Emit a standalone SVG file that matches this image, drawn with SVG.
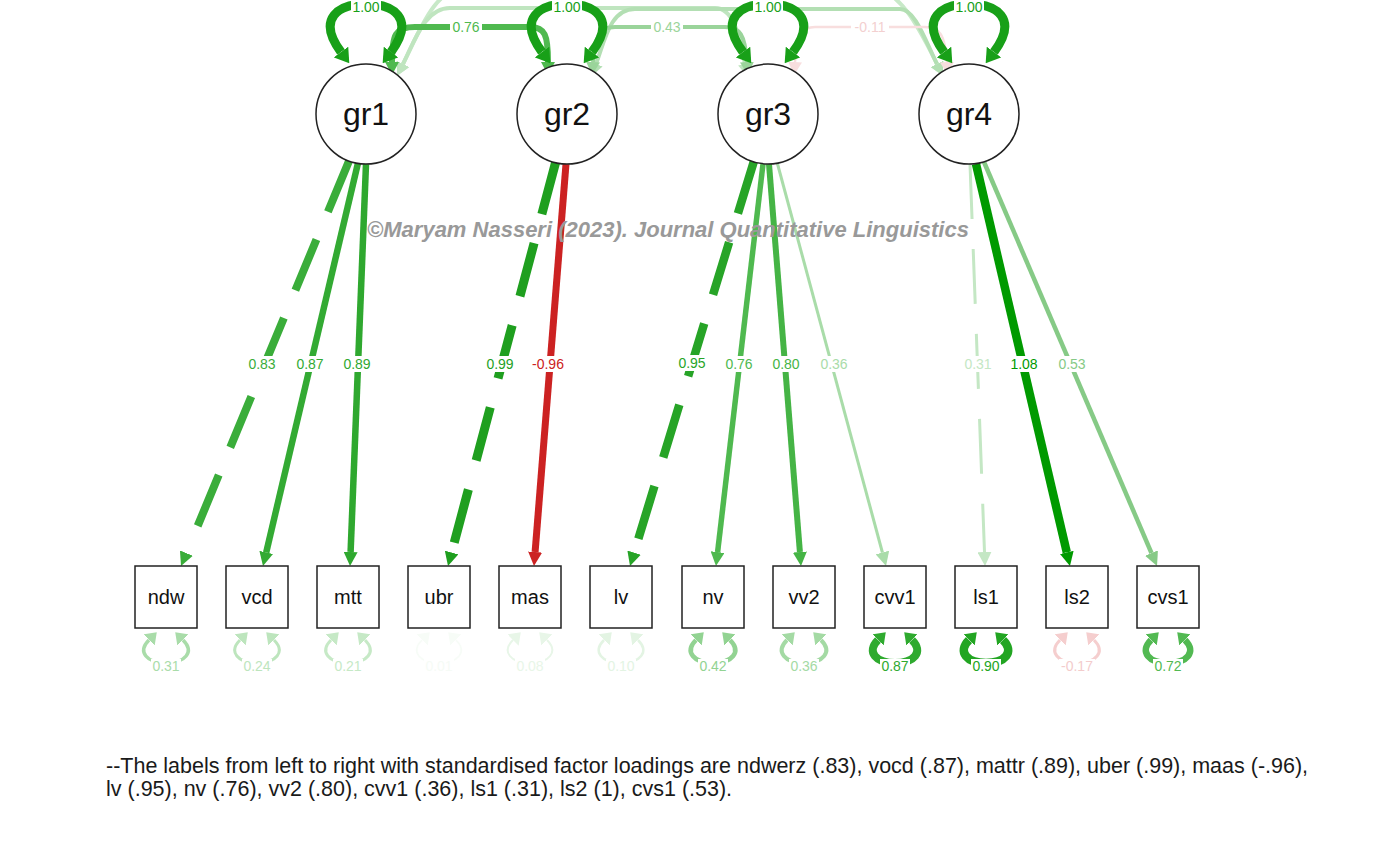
<svg xmlns="http://www.w3.org/2000/svg" xmlns:xlink="http://www.w3.org/1999/xlink" width="1385" height="851" viewBox="0 0 1385 851">
<style>
text{font-family:"Liberation Sans",Arial,sans-serif}
.lat circle{fill:#fff;stroke:#222;stroke-width:1.5}
.lat text{font-size:32px;fill:#111;text-anchor:middle}
.man rect{fill:#fff;stroke:#222;stroke-width:1.5}
.man text{font-size:20px;fill:#111;text-anchor:middle}
.lbl{font-size:14px;text-anchor:middle}
.bg{fill:#fff}
.ln{fill:none;stroke-linecap:butt}
.dash{stroke-dasharray:55 30}
.wm{font-size:22px;font-weight:bold;font-style:italic;fill:#999;text-anchor:middle}
.foot{font-size:21.5px;fill:#1a1a1a}
</style>
<defs>
<marker id="mLoop" viewBox="0 -9 14 18" refX="0" refY="0" markerWidth="14" markerHeight="18" markerUnits="userSpaceOnUse" orient="auto-start-reverse"><path d="M0,-9 L14,0 L0,9 z" fill="#18a018"/></marker>
<marker id="l83" viewBox="0 -7 14 14" refX="0" refY="0" markerWidth="14" markerHeight="14" markerUnits="userSpaceOnUse" orient="auto"><path d="M0,-7 L14,0 L0,7 z" fill="#3aad3a"/></marker>
<marker id="l87" viewBox="0 -7 14 14" refX="0" refY="0" markerWidth="14" markerHeight="14" markerUnits="userSpaceOnUse" orient="auto"><path d="M0,-7 L14,0 L0,7 z" fill="#33aa33"/></marker>
<marker id="l89" viewBox="0 -7 14 14" refX="0" refY="0" markerWidth="14" markerHeight="14" markerUnits="userSpaceOnUse" orient="auto"><path d="M0,-7 L14,0 L0,7 z" fill="#2fa82f"/></marker>
<marker id="l99" viewBox="0 -7 14 14" refX="0" refY="0" markerWidth="14" markerHeight="14" markerUnits="userSpaceOnUse" orient="auto"><path d="M0,-7 L14,0 L0,7 z" fill="#1f9f1f"/></marker>
<marker id="l96" viewBox="0 -7 14 14" refX="0" refY="0" markerWidth="14" markerHeight="14" markerUnits="userSpaceOnUse" orient="auto"><path d="M0,-7 L14,0 L0,7 z" fill="#cc2222"/></marker>
<marker id="l95" viewBox="0 -7 14 14" refX="0" refY="0" markerWidth="14" markerHeight="14" markerUnits="userSpaceOnUse" orient="auto"><path d="M0,-7 L14,0 L0,7 z" fill="#27a427"/></marker>
<marker id="l76" viewBox="0 -7 14 14" refX="0" refY="0" markerWidth="14" markerHeight="14" markerUnits="userSpaceOnUse" orient="auto"><path d="M0,-7 L14,0 L0,7 z" fill="#4fb94f"/></marker>
<marker id="l80" viewBox="0 -7 14 14" refX="0" refY="0" markerWidth="14" markerHeight="14" markerUnits="userSpaceOnUse" orient="auto"><path d="M0,-7 L14,0 L0,7 z" fill="#45b445"/></marker>
<marker id="l36" viewBox="0 -7 14 14" refX="0" refY="0" markerWidth="14" markerHeight="14" markerUnits="userSpaceOnUse" orient="auto"><path d="M0,-7 L14,0 L0,7 z" fill="#a9dca9"/></marker>
<marker id="l31" viewBox="0 -7 14 14" refX="0" refY="0" markerWidth="14" markerHeight="14" markerUnits="userSpaceOnUse" orient="auto"><path d="M0,-7 L14,0 L0,7 z" fill="#c4e7c4"/></marker>
<marker id="l108" viewBox="0 -7 14 14" refX="0" refY="0" markerWidth="14" markerHeight="14" markerUnits="userSpaceOnUse" orient="auto"><path d="M0,-7 L14,0 L0,7 z" fill="#009a00"/></marker>
<marker id="l53" viewBox="0 -7 14 14" refX="0" refY="0" markerWidth="14" markerHeight="14" markerUnits="userSpaceOnUse" orient="auto"><path d="M0,-7 L14,0 L0,7 z" fill="#86ca86"/></marker>
<marker id="c76" viewBox="0 -7 13 14" refX="0" refY="0" markerWidth="13" markerHeight="14" markerUnits="userSpaceOnUse" orient="auto-start-reverse"><path d="M0,-7 L13,0 L0,7 z" fill="#4fb94f"/></marker>
<marker id="c43" viewBox="0 -7 13 14" refX="0" refY="0" markerWidth="13" markerHeight="14" markerUnits="userSpaceOnUse" orient="auto-start-reverse"><path d="M0,-7 L13,0 L0,7 z" fill="#9ad49a"/></marker>
<marker id="c11" viewBox="0 -7 13 14" refX="0" refY="0" markerWidth="13" markerHeight="14" markerUnits="userSpaceOnUse" orient="auto-start-reverse"><path d="M0,-7 L13,0 L0,7 z" fill="#f8dede"/></marker>
<marker id="c13" viewBox="0 -7 13 14" refX="0" refY="0" markerWidth="13" markerHeight="14" markerUnits="userSpaceOnUse" orient="auto-start-reverse"><path d="M0,-7 L13,0 L0,7 z" fill="#bfe5bf"/></marker>
<marker id="c24" viewBox="0 -7 13 14" refX="0" refY="0" markerWidth="13" markerHeight="14" markerUnits="userSpaceOnUse" orient="auto-start-reverse"><path d="M0,-7 L13,0 L0,7 z" fill="#b3dfb3"/></marker>
<marker id="c14" viewBox="0 -7 13 14" refX="0" refY="0" markerWidth="13" markerHeight="14" markerUnits="userSpaceOnUse" orient="auto-start-reverse"><path d="M0,-7 L13,0 L0,7 z" fill="#c8e9c8"/></marker>
<marker id="r31" viewBox="0 -8 11 16" refX="0" refY="0" markerWidth="11" markerHeight="16" markerUnits="userSpaceOnUse" orient="auto-start-reverse"><path d="M0,-8 L11,0 L0,8 z" fill="#a9dca9"/></marker>
<marker id="r24" viewBox="0 -8 11 16" refX="0" refY="0" markerWidth="11" markerHeight="16" markerUnits="userSpaceOnUse" orient="auto-start-reverse"><path d="M0,-8 L11,0 L0,8 z" fill="#bde5bd"/></marker>
<marker id="r21" viewBox="0 -8 11 16" refX="0" refY="0" markerWidth="11" markerHeight="16" markerUnits="userSpaceOnUse" orient="auto-start-reverse"><path d="M0,-8 L11,0 L0,8 z" fill="#c6e9c6"/></marker>
<marker id="r01" viewBox="0 -8 11 16" refX="0" refY="0" markerWidth="11" markerHeight="16" markerUnits="userSpaceOnUse" orient="auto-start-reverse"><path d="M0,-8 L11,0 L0,8 z" fill="#f7fcf7"/></marker>
<marker id="r08" viewBox="0 -8 11 16" refX="0" refY="0" markerWidth="11" markerHeight="16" markerUnits="userSpaceOnUse" orient="auto-start-reverse"><path d="M0,-8 L11,0 L0,8 z" fill="#e8f6e8"/></marker>
<marker id="r10" viewBox="0 -8 11 16" refX="0" refY="0" markerWidth="11" markerHeight="16" markerUnits="userSpaceOnUse" orient="auto-start-reverse"><path d="M0,-8 L11,0 L0,8 z" fill="#e3f4e3"/></marker>
<marker id="r42" viewBox="0 -8 11 16" refX="0" refY="0" markerWidth="11" markerHeight="16" markerUnits="userSpaceOnUse" orient="auto-start-reverse"><path d="M0,-8 L11,0 L0,8 z" fill="#92d392"/></marker>
<marker id="r36" viewBox="0 -8 11 16" refX="0" refY="0" markerWidth="11" markerHeight="16" markerUnits="userSpaceOnUse" orient="auto-start-reverse"><path d="M0,-8 L11,0 L0,8 z" fill="#a4daa4"/></marker>
<marker id="r87" viewBox="0 -8 11 16" refX="0" refY="0" markerWidth="11" markerHeight="16" markerUnits="userSpaceOnUse" orient="auto-start-reverse"><path d="M0,-8 L11,0 L0,8 z" fill="#2faa2f"/></marker>
<marker id="r90" viewBox="0 -8 11 16" refX="0" refY="0" markerWidth="11" markerHeight="16" markerUnits="userSpaceOnUse" orient="auto-start-reverse"><path d="M0,-8 L11,0 L0,8 z" fill="#22a522"/></marker>
<marker id="r17" viewBox="0 -8 11 16" refX="0" refY="0" markerWidth="11" markerHeight="16" markerUnits="userSpaceOnUse" orient="auto-start-reverse"><path d="M0,-8 L11,0 L0,8 z" fill="#f5cece"/></marker>
<marker id="r72" viewBox="0 -8 11 16" refX="0" refY="0" markerWidth="11" markerHeight="16" markerUnits="userSpaceOnUse" orient="auto-start-reverse"><path d="M0,-8 L11,0 L0,8 z" fill="#52b952"/></marker>
<path id="latLoop" d="M -25 52 C -50 18, -27 4, 0 4 C 27 4, 50 18, 25 52" fill="none" stroke="#18a018" stroke-width="9" marker-start="url(#mLoop)" marker-end="url(#mLoop)"/>
<path id="resLoop" d="M -17 640 C -29 652, -19 663, 0 663 C 19 663, 29 652, 17 640"/>
</defs>

<g id="connectors">
  <!-- covariances between latents -->
  <path class="ln" d="M 403 64 C 420 30, 435 -12, 465 -12 L 870 -12 C 900 -12, 920 30, 937 64" stroke="#c8e9c8" stroke-width="4" marker-start="url(#c14)" marker-end="url(#c14)"/>
  <path class="ln" d="M 403 64 C 415 40, 425 8, 450 8 L 715 8 C 735 8, 740 40, 745 64" stroke="#bfe5bf" stroke-width="4" marker-start="url(#c13)" marker-end="url(#c13)"/>
  <path class="ln" d="M 596 64 C 605 40, 610 9, 635 9 L 900 9 C 915 9, 925 40, 937 64" stroke="#b3dfb3" stroke-width="4" marker-start="url(#c24)" marker-end="url(#c24)"/>
  <path class="ln" d="M 392 62 C 392 35, 395 27, 415 27 L 530 27 C 545 27, 548 35, 548 62" stroke="#4fb94f" stroke-width="6" marker-start="url(#c76)" marker-end="url(#c76)"/>
  <path class="ln" d="M 593 62 C 595 35, 600 27, 615 27 L 725 27 C 740 27, 745 35, 747 62" stroke="#9ad49a" stroke-width="4" marker-start="url(#c43)" marker-end="url(#c43)"/>
  <path class="ln" d="M 795 62 C 797 35, 802 27, 815 27 L 925 27 C 940 27, 945 35, 947 62" stroke="#f8dede" stroke-width="2.5" marker-start="url(#c11)" marker-end="url(#c11)"/>
  <rect class="bg" x="450" y="19" width="32" height="16"/><text class="lbl" x="466" y="32" fill="#4fb94f">0.76</text>
  <rect class="bg" x="651" y="19" width="32" height="16"/><text class="lbl" x="667" y="32" fill="#9ad49a">0.43</text>
  <rect class="bg" x="851" y="19" width="38" height="16"/><text class="lbl" x="870" y="32" fill="#f3d0d0">-0.11</text>

  <!-- factor loadings -->
  <path class="ln dash" d="M 349 161 L 186.4 553.1" stroke="#3aad3a" stroke-width="8" marker-end="url(#l83)"/>
  <path class="ln" d="M 358 163 L 266.2 552.4" stroke="#33aa33" stroke-width="6.5" marker-end="url(#l87)"/>
  <path class="ln" d="M 366 164 L 350.6 552" stroke="#2fa82f" stroke-width="6.5" marker-end="url(#l89)"/>
  <path class="ln dash" d="M 556 161 L 451.6 552.5" stroke="#1f9f1f" stroke-width="9" marker-end="url(#l99)"/>
  <path class="ln" d="M 566 164 L 535.1 552" stroke="#cc2222" stroke-width="7" marker-end="url(#l96)"/>
  <path class="ln dash" d="M 754 161 L 634.1 552.6" stroke="#27a427" stroke-width="8.5" marker-end="url(#l95)"/>
  <path class="ln" d="M 763 164 L 717.6 552.1" stroke="#4fb94f" stroke-width="5.5" marker-end="url(#l76)"/>
  <path class="ln" d="M 769 164 L 799.9 552" stroke="#45b445" stroke-width="6" marker-end="url(#l80)"/>
  <path class="ln" d="M 777 162 L 882.4 552.5" stroke="#a9dca9" stroke-width="3" marker-end="url(#l36)"/>
  <path class="ln dash" d="M 970 164 L 984.5 552" stroke="#c4e7c4" stroke-width="3" marker-end="url(#l31)"/>
  <path class="ln" d="M 976 164 L 1066.8 552.4" stroke="#009a00" stroke-width="8.5" marker-end="url(#l108)"/>
  <path class="ln" d="M 984 162 L 1151.5 553.1" stroke="#86ca86" stroke-width="4.5" marker-end="url(#l53)"/>
  <rect class="bg" x="246" y="356" width="32" height="16"/><text class="lbl" x="262" y="369" fill="#3aad3a">0.83</text>
  <rect class="bg" x="294" y="356" width="32" height="16"/><text class="lbl" x="310" y="369" fill="#33aa33">0.87</text>
  <rect class="bg" x="341" y="356" width="32" height="16"/><text class="lbl" x="357" y="369" fill="#2fa82f">0.89</text>
  <rect class="bg" x="484" y="356" width="32" height="16"/><text class="lbl" x="500" y="369" fill="#1f9f1f">0.99</text>
  <rect class="bg" x="529" y="356" width="38" height="16"/><text class="lbl" x="548" y="369" fill="#cc2222">-0.96</text>
  <rect class="bg" x="676" y="355" width="32" height="16"/><text class="lbl" x="692" y="368" fill="#27a427">0.95</text>
  <rect class="bg" x="723" y="356" width="32" height="16"/><text class="lbl" x="739" y="369" fill="#4fb94f">0.76</text>
  <rect class="bg" x="770" y="356" width="32" height="16"/><text class="lbl" x="786" y="369" fill="#45b445">0.80</text>
  <rect class="bg" x="818" y="356" width="32" height="16"/><text class="lbl" x="834" y="369" fill="#a9dca9">0.36</text>
  <rect class="bg" x="962" y="356" width="32" height="16"/><text class="lbl" x="978" y="369" fill="#c4e7c4">0.31</text>
  <rect class="bg" x="1008" y="356" width="32" height="16"/><text class="lbl" x="1024" y="369" fill="#009a00">1.08</text>
  <rect class="bg" x="1056" y="356" width="32" height="16"/><text class="lbl" x="1072" y="369" fill="#86ca86">0.53</text>

  <!-- latent variances -->
  <use href="#latLoop" x="366"/>
  <use href="#latLoop" x="567"/>
  <use href="#latLoop" x="768"/>
  <use href="#latLoop" x="969"/>
  <rect class="bg" x="351" y="0" width="30" height="13"/><text class="lbl" x="366" y="12" fill="#18a018">1.00</text>
  <rect class="bg" x="552" y="0" width="30" height="13"/><text class="lbl" x="567" y="12" fill="#18a018">1.00</text>
  <rect class="bg" x="753" y="0" width="30" height="13"/><text class="lbl" x="768" y="12" fill="#18a018">1.00</text>
  <rect class="bg" x="954" y="0" width="30" height="13"/><text class="lbl" x="969" y="12" fill="#18a018">1.00</text>

  <!-- residual variances -->
  <use href="#resLoop" x="166" fill="none" stroke="#a9dca9" stroke-width="3.5" marker-start="url(#r31)" marker-end="url(#r31)"/>
  <use href="#resLoop" x="257" fill="none" stroke="#bde5bd" stroke-width="3" marker-start="url(#r24)" marker-end="url(#r24)"/>
  <use href="#resLoop" x="348" fill="none" stroke="#c6e9c6" stroke-width="3" marker-start="url(#r21)" marker-end="url(#r21)"/>
  <use href="#resLoop" x="439" fill="none" stroke="#f7fcf7" stroke-width="1.5" marker-start="url(#r01)" marker-end="url(#r01)"/>
  <use href="#resLoop" x="530" fill="none" stroke="#e8f6e8" stroke-width="2" marker-start="url(#r08)" marker-end="url(#r08)"/>
  <use href="#resLoop" x="621" fill="none" stroke="#e3f4e3" stroke-width="2.5" marker-start="url(#r10)" marker-end="url(#r10)"/>
  <use href="#resLoop" x="713" fill="none" stroke="#92d392" stroke-width="4.5" marker-start="url(#r42)" marker-end="url(#r42)"/>
  <use href="#resLoop" x="804" fill="none" stroke="#a4daa4" stroke-width="4" marker-start="url(#r36)" marker-end="url(#r36)"/>
  <use href="#resLoop" x="895" fill="none" stroke="#2faa2f" stroke-width="8" marker-start="url(#r87)" marker-end="url(#r87)"/>
  <use href="#resLoop" x="986" fill="none" stroke="#22a522" stroke-width="8.5" marker-start="url(#r90)" marker-end="url(#r90)"/>
  <use href="#resLoop" x="1077" fill="none" stroke="#f5cece" stroke-width="3" marker-start="url(#r17)" marker-end="url(#r17)"/>
  <use href="#resLoop" x="1168" fill="none" stroke="#52b952" stroke-width="6.5" marker-start="url(#r72)" marker-end="url(#r72)"/>
  <rect class="bg" x="151" y="659" width="30" height="13"/><text class="lbl" x="166" y="671" fill="#a9dca9">0.31</text>
  <rect class="bg" x="242" y="659" width="30" height="13"/><text class="lbl" x="257" y="671" fill="#bde5bd">0.24</text>
  <rect class="bg" x="333" y="659" width="30" height="13"/><text class="lbl" x="348" y="671" fill="#c6e9c6">0.21</text>
  <rect class="bg" x="424" y="659" width="30" height="13"/><text class="lbl" x="439" y="671" fill="#f6fbf6">0.01</text>
  <rect class="bg" x="515" y="659" width="30" height="13"/><text class="lbl" x="530" y="671" fill="#e8f6e8">0.08</text>
  <rect class="bg" x="606" y="659" width="30" height="13"/><text class="lbl" x="621" y="671" fill="#e3f4e3">0.10</text>
  <rect class="bg" x="698" y="659" width="30" height="13"/><text class="lbl" x="713" y="671" fill="#92d392">0.42</text>
  <rect class="bg" x="789" y="659" width="30" height="13"/><text class="lbl" x="804" y="671" fill="#a4daa4">0.36</text>
  <rect class="bg" x="880" y="659" width="30" height="13"/><text class="lbl" x="895" y="671" fill="#2faa2f">0.87</text>
  <rect class="bg" x="971" y="659" width="30" height="13"/><text class="lbl" x="986" y="671" fill="#22a522">0.90</text>
  <rect class="bg" x="1059" y="659" width="36" height="13"/><text class="lbl" x="1077" y="671" fill="#f3cccc">-0.17</text>
  <rect class="bg" x="1153" y="659" width="30" height="13"/><text class="lbl" x="1168" y="671" fill="#52b952">0.72</text>
</g>

<g id="gr1" class="lat"><circle cx="366" cy="114" r="50"/><text x="366" y="125">gr1</text></g>
<g id="gr2" class="lat"><circle cx="567" cy="114" r="50"/><text x="567" y="125">gr2</text></g>
<g id="gr3" class="lat"><circle cx="768" cy="114" r="50"/><text x="768" y="125">gr3</text></g>
<g id="gr4" class="lat"><circle cx="969" cy="114" r="50"/><text x="969" y="125">gr4</text></g>

<g id="ndw" class="man"><rect x="135" y="566" width="62" height="62"/><text x="166" y="604">ndw</text></g>
<g id="vcd" class="man"><rect x="226" y="566" width="62" height="62"/><text x="257" y="604">vcd</text></g>
<g id="mtt" class="man"><rect x="317" y="566" width="62" height="62"/><text x="348" y="604">mtt</text></g>
<g id="ubr" class="man"><rect x="408" y="566" width="62" height="62"/><text x="439" y="604">ubr</text></g>
<g id="mas" class="man"><rect x="499" y="566" width="62" height="62"/><text x="530" y="604">mas</text></g>
<g id="lv" class="man"><rect x="590" y="566" width="62" height="62"/><text x="621" y="604">lv</text></g>
<g id="nv" class="man"><rect x="682" y="566" width="62" height="62"/><text x="713" y="604">nv</text></g>
<g id="vv2" class="man"><rect x="773" y="566" width="62" height="62"/><text x="804" y="604">vv2</text></g>
<g id="cvv1" class="man"><rect x="864" y="566" width="62" height="62"/><text x="895" y="604">cvv1</text></g>
<g id="ls1" class="man"><rect x="955" y="566" width="62" height="62"/><text x="986" y="604">ls1</text></g>
<g id="ls2" class="man"><rect x="1046" y="566" width="62" height="62"/><text x="1077" y="604">ls2</text></g>
<g id="cvs1" class="man"><rect x="1137" y="566" width="62" height="62"/><text x="1168" y="604">cvs1</text></g>

<text class="wm" x="668" y="237">©Maryam Nasseri (2023). Journal Quantitative Linguistics</text>
<text class="foot" x="106" y="773">--The labels from left to right with standardised factor loadings are ndwerz (.83), vocd (.87), mattr (.89), uber (.99), maas (-.96),</text>
<text class="foot" x="106" y="796">lv (.95), nv (.76), vv2 (.80), cvv1 (.36), ls1 (.31), ls2 (1), cvs1 (.53).</text>
</svg>
